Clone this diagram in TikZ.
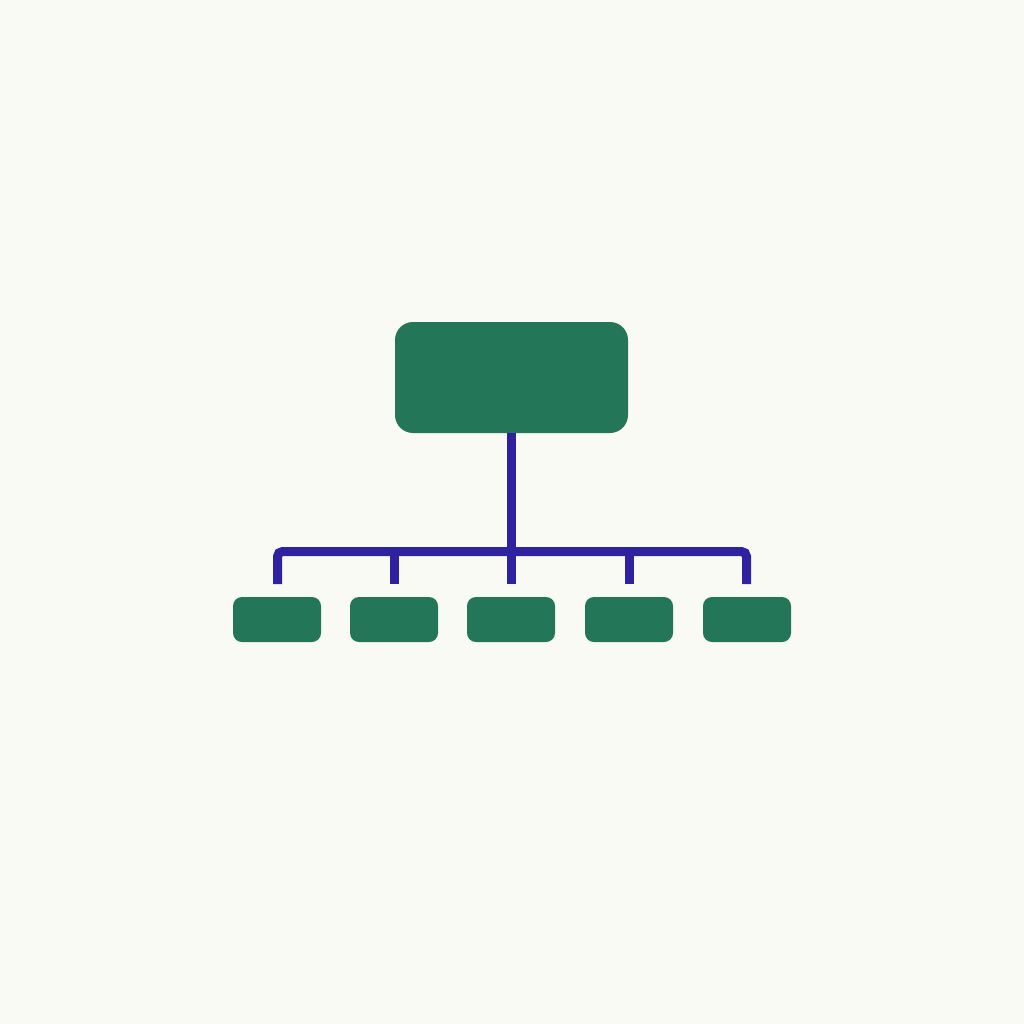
\documentclass[tikz,border=0pt]{standalone}
\begin{document}
\begin{tikzpicture}[x=1pt,y=-1pt,
  bg/.style={fill=bgc},
  topbox/.style={fill=boxgreen, rounded corners=18pt, minimum width=233pt, minimum height=111pt, inner sep=0pt},
  leafbox/.style={fill=boxgreen, rounded corners=9pt, minimum width=88pt, minimum height=45pt, inner sep=0pt},
  busline/.style={draw=busblue, line width=9pt}]
\definecolor{bgc}{HTML}{FAFAF5}
\definecolor{boxgreen}{HTML}{237657}
\definecolor{busblue}{HTML}{2E22A0}
\fill[bgc] (0,0) rectangle (1024,1024);
\useasboundingbox (0,0) rectangle (1024,1024);
\node[topbox] (top) at (511.5,377.5) {};
\node[leafbox] (l1) at (277,619.5) {};
\node[leafbox] (l2) at (394,619.5) {};
\node[leafbox] (l3) at (511,619.5) {};
\node[leafbox] (l4) at (629,619.5) {};
\node[leafbox] (l5) at (747,619.5) {};
\coordinate (bus) at (511.5,551.5);
\coordinate (d1) at (277.5,584);
\coordinate (d2) at (394.5,584);
\coordinate (d3) at (511.5,584);
\coordinate (d4) at (629,584);
\coordinate (d5) at (746.5,584);
\draw[busline, rounded corners=5pt] (d1) |- (bus) -| (d5);
\draw[busline] (top.south) -- (d3);
\draw[busline] (d2 |- bus) -- (d2);
\draw[busline] (d4 |- bus) -- (d4);
\end{tikzpicture}
\end{document}
